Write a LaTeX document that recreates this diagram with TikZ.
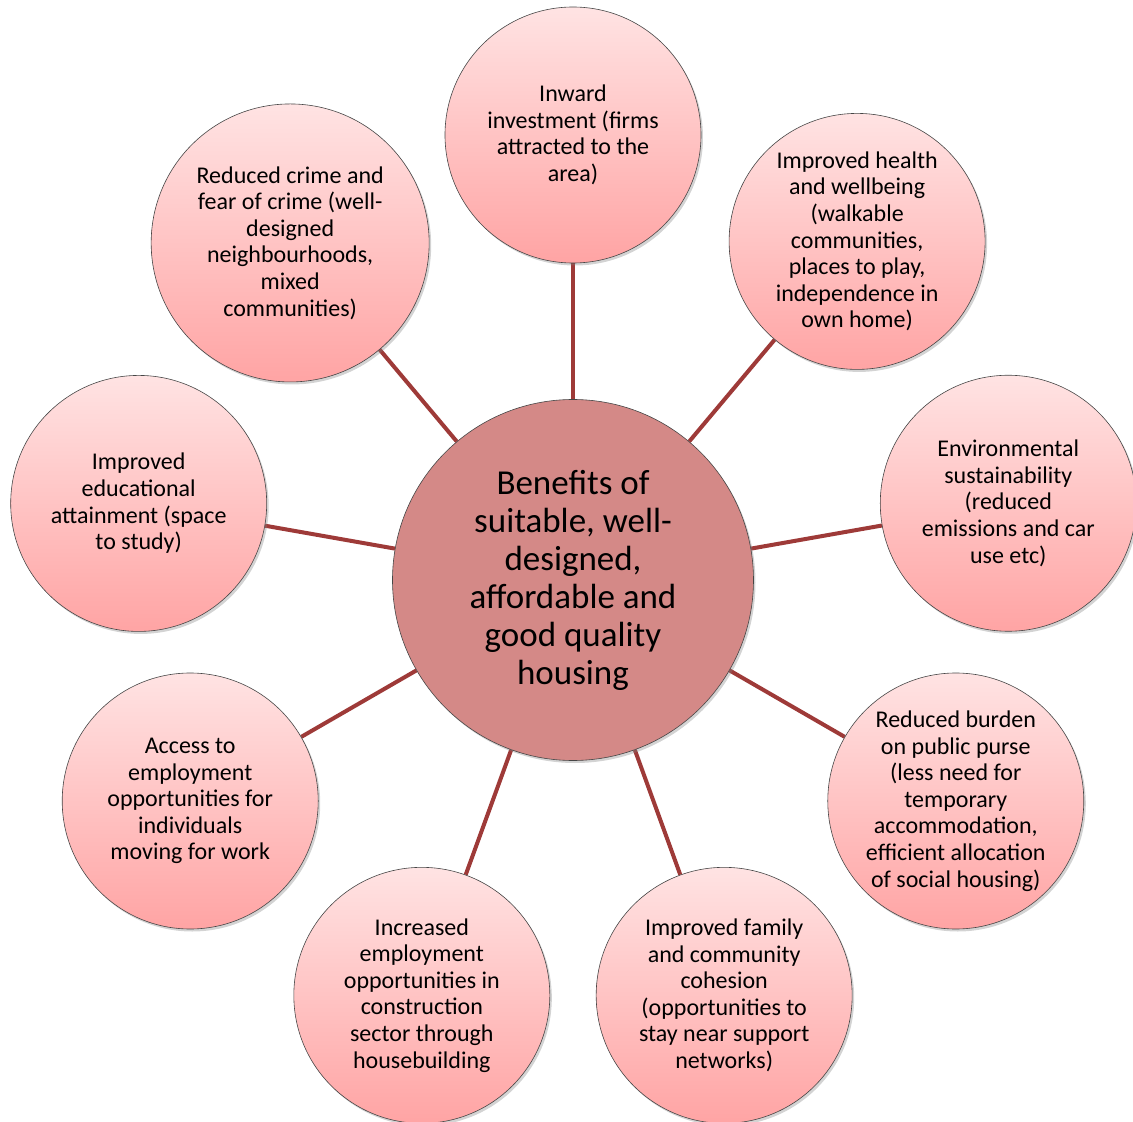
\documentclass[tikz,border=0pt]{standalone}
\usepackage{fontspec}
\setmainfont{Carlito}
\usetikzlibrary{shadows,backgrounds}

\definecolor{spokered}{RGB}{158,58,56}
\definecolor{hubpink}{RGB}{212,137,135}
\definecolor{bubtop}{RGB}{255,227,227}
\definecolor{bubbottom}{RGB}{255,164,164}

\tikzset{
	bubble/.style={circle, minimum size=256pt, inner sep=0pt, align=center,
		draw=gray!55!black, line width=0.6pt, top color=bubtop, bottom color=bubbottom,
		drop shadow={shadow xshift=2pt, shadow yshift=-2.5pt, opacity=0.35},
		font=\fontsize{24}{26.6}\selectfont},
	hub/.style={circle, minimum size=361pt, inner sep=0pt, align=center,
		draw=gray!55!black, line width=0.6pt, fill=hubpink,
		drop shadow={shadow xshift=2pt, shadow yshift=-2.5pt, opacity=0.35},
		font=\fontsize{35}{38}\selectfont},
	spoke/.style={draw=spokered, line width=4pt},
}

\begin{document}
\begin{tikzpicture}
	\useasboundingbox (-573pt,-542pt) rectangle (560pt,580pt);
	\node[hub] (hub) at (0,0) {Benefits of\\suitable, well-\\designed,\\affordable and\\good quality\\housing};
	% the nine benefits, 40 degrees apart
	\node[bubble] (invest) at (90:445pt) {Inward\\investment (firms\\attracted to the\\area)};
	\node[bubble] (health) at (50:442pt) {Improved health\\and wellbeing\\(walkable\\communities,\\places to play,\\independence in\\own home)};
	\node[bubble] (enviro) at (10:442pt) {Environmental\\sustainability\\(reduced\\emissions and car\\use etc)};
	\node[bubble] (purse) at (-30:442pt) {Reduced burden\\on public purse\\(less need for\\temporary\\accommodation,\\efficient allocation\\of social housing)};
	\node[bubble] (family) at (-70:442pt) {Improved family\\and community\\cohesion\\(opportunities to\\stay near support\\networks)};
	\node[bubble] (build) at (-110:442pt) {Increased\\employment\\opportunities in\\construction\\sector through\\housebuilding};
	\node[bubble] (jobs) at (-150:442pt) {Access to\\employment\\opportunities for\\individuals\\moving for work};
	\node[bubble] (educ) at (170:441pt) {Improved\\educational\\attainment (space\\to study)};
	\node[bubble, minimum size=278pt] (crime) at (130:440pt) {Reduced crime and\\fear of crime (well-\\designed\\neighbourhoods,\\mixed\\communities)};
	\begin{scope}[on background layer]
		\draw[spoke] (hub) -- (invest);
		\draw[spoke] (hub) -- (health);
		\draw[spoke] (hub) -- (enviro);
		\draw[spoke] (hub) -- (purse);
		\draw[spoke] (hub) -- (family);
		\draw[spoke] (hub) -- (build);
		\draw[spoke] (hub) -- (jobs);
		\draw[spoke] (hub) -- (educ);
		\draw[spoke] (hub) -- (crime);
	\end{scope}
\end{tikzpicture}
\end{document}
